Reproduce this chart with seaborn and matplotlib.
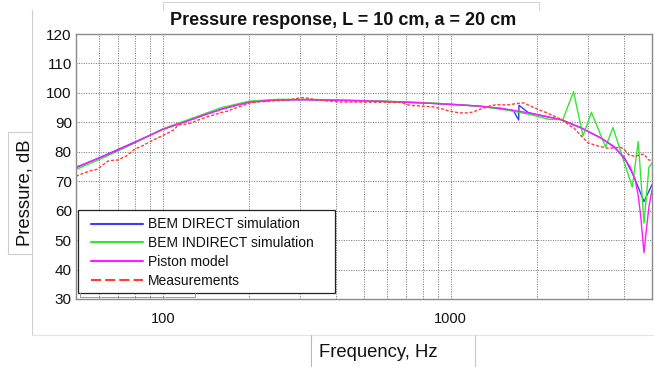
import matplotlib
matplotlib.use("Agg")
import matplotlib.pyplot as plt
import seaborn as sns
import numpy as np
from matplotlib.ticker import FixedLocator, LogLocator, NullFormatter, FuncFormatter
from matplotlib.lines import Line2D
from matplotlib.patches import Rectangle

# ---- data -------------------------------------------------------------
freq_direct = [50, 63, 80, 100, 125, 160, 200, 250, 315, 400, 500, 630, 800,
               1000, 1250, 1500, 1650, 1722, 1726, 1860, 2000, 2420, 2840,
               3350, 3690, 4000, 4300, 4690, 5000]
db_direct = [74.6, 78.8, 83.3, 87.6, 90.9, 94.5, 96.9, 97.6, 97.7, 97.5, 97.3,
             97.0, 96.6, 96.1, 95.5, 94.7, 94.0, 90.8, 95.8, 93.3, 92.6, 90.9,
             88.1, 84.5, 81.6, 78.2, 72.2, 63.1, 68.8]

freq_indirect = [50, 63, 80, 100, 125, 160, 200, 250, 315, 400, 500, 630, 800,
                 1000, 1250, 1600, 1900, 2200, 2450, 2670, 2880, 3080, 3450,
                 3660, 4270, 4480, 4690, 4880, 5000]
db_indirect = [74.0, 78.2, 83.0, 87.8, 91.2, 95.0, 97.2, 97.8, 97.8, 97.6,
               97.4, 97.1, 96.7, 96.2, 95.5, 94.0, 92.6, 91.0, 90.9, 100.4,
               85.4, 93.4, 81.6, 88.2, 68.0, 83.5, 55.8, 74.8, 76.1]

freq_piston = [50, 60, 70, 80, 90, 100, 112, 125, 140, 160, 180, 200, 225, 250,
               300, 400, 500, 600, 800, 1000, 1270, 1500, 1770, 2000, 2420,
               2840, 3000, 3350, 3690, 4000, 4200, 4370, 4480, 4570, 4690,
               4780, 4880, 5000]
db_piston = [74.8, 77.8, 80.6, 83.2, 85.5, 87.6, 89.3, 90.8, 92.6, 94.4, 95.8,
             96.8, 97.3, 97.6, 97.7, 97.5, 97.3, 97.1, 96.6, 96.1, 95.5, 94.7,
             93.6, 92.6, 90.9, 88.1, 86.9, 84.5, 81.8, 77.8, 74.8, 70.5, 65.0,
             58.0, 45.7, 53.5, 61.4, 67.0]

freq_meas = [50, 53, 56.4, 59, 61, 64.4, 67, 69.8, 74.6, 79.7, 85, 91.1, 97,
             104, 110, 112.6, 118, 125, 133, 143, 150, 159, 168, 177, 190, 202,
             220, 243, 270, 295, 310, 336, 370, 416, 480, 572, 670, 705, 740,
             805, 875, 930, 975, 1070, 1160, 1210, 1270, 1380, 1450, 1570, 1700,
             1795, 1850, 2000, 2160, 2300, 2450, 2600, 2680, 2800, 3000, 3240,
             3490, 3700, 3900, 4000, 4150, 4370, 4550, 4690, 4850, 5000]
db_meas = [71.7, 72.7, 73.6, 74.0, 75.0, 76.8, 77.1, 77.2, 78.5, 80.8, 82.0,
           83.6, 84.9, 86.3, 87.6, 89.0, 89.3, 89.7, 90.8, 91.9, 92.5, 93.3,
           93.8, 94.7, 95.7, 96.7, 97.0, 97.3, 97.5, 98.2, 98.4, 97.8, 97.3,
           96.9, 96.9, 96.8, 96.8, 96.0, 95.7, 95.5, 95.2, 94.6, 94.0, 93.2,
           93.2, 93.7, 94.5, 95.7, 96.0, 95.9, 96.4, 96.6, 96.0, 94.5, 93.2,
           92.0, 90.7, 88.8, 88.1, 86.0, 83.0, 82.0, 81.25, 81.3, 81.5, 80.9,
           79.0, 78.4, 79.0, 79.2, 77.3, 77.0]

labels = ["BEM DIRECT simulation", "BEM INDIRECT simulation",
          "Piston model", "Measurements"]
x_tick_values = [100, 1000]
y_tick_values = list(range(30, 121, 10))

# ---- figure -----------------------------------------------------------
sns.set_style("white")
plt.rcParams["font.family"] = ["Liberation Sans", "DejaVu Sans"]

W, H = 654, 367
fig = plt.figure(figsize=(W / 100, H / 100), dpi=100)
ax = fig.add_axes([76 / W, 1 - 299 / H, 576 / W, 265 / H])

series = [
    (freq_direct, db_direct, labels[0], "#3b3bff", "-"),
    (freq_indirect, db_indirect, labels[1], "#33e633", "-"),
    (freq_piston, db_piston, labels[2], "#ff1aff", "-"),
    (freq_meas, db_meas, labels[3], "#ff3b3b", (0, (2.2, 1.3))),
]
for fx_, fy_, lab, col, ls in series:
    sns.lineplot(x=fx_, y=fy_, ax=ax, color=col, label=lab, linewidth=1.0,
                 linestyle=ls, estimator=None, sort=False)

ax.set_xscale("log")
ax.set_xlim(50, 5000)
ax.set_ylim(30, 120)
ax.set_yticks(y_tick_values)
ax.xaxis.set_major_locator(FixedLocator(x_tick_values))
ax.xaxis.set_major_formatter(FuncFormatter(lambda v, p: f"{v:.0f}"))
ax.xaxis.set_minor_locator(LogLocator(base=10, subs=np.arange(2, 10), numticks=20))
ax.xaxis.set_minor_formatter(NullFormatter())
ax.set_xlabel("")
ax.set_ylabel("")

ax.grid(True, which="both", color="#707070", linestyle=(0, (1, 1.5)), linewidth=0.7)
ax.set_axisbelow(True)
for sp in ax.spines.values():
    sp.set_color("#8a8a8a")
    sp.set_linewidth(1.0)

ax.tick_params(axis="both", which="both", direction="in", color="#8a8a8a")
ax.tick_params(axis="both", which="major", length=3)
ax.tick_params(axis="both", which="minor", length=2)
ax.tick_params(axis="y", labelsize=11, pad=3, labelcolor="#111111")
ax.tick_params(axis="x", labelsize=10.5, pad=9.5, labelcolor="#111111")

# ---- legend -----------------------------------------------------------
ax.add_patch(Rectangle((77.7 / W, 1 - 293.3 / H), (335 - 77.7) / W, (293.3 - 210) / H,
                       transform=fig.transFigure, facecolor="white",
                       edgecolor="#222222", linewidth=0.9, zorder=4, clip_on=False))
leg = ax.legend(loc="upper left", bbox_to_anchor=(90.7 / W, 1 - 217.5 / H),
                bbox_transform=fig.transFigure, frameon=False, borderpad=0,
                borderaxespad=0, handlelength=3.74, handletextpad=0.36,
                labelspacing=0.34, prop={"family": "Liberation Sans", "size": 10})
for h in leg.get_lines():
    h.set_linewidth(1.5)
leg.get_lines()[3].set_linestyle((0, (4.8, 2.0)))
for t in leg.get_texts():
    t.set_color("#111111")


def fline(xs, ys, color="#cfcfcf", lw=0.8):
    fig.add_artist(Line2D([x / W for x in xs], [1 - y / H for y in ys],
                          color=color, linewidth=lw, transform=fig.transFigure))


# thin outline below the legend box
fline([80, 80, 195, 195], [293.3, 296.6, 296.6, 293.3], color="#9a9a9a", lw=0.7)

# ---- frames around the titles ----------------------------------------
fline([163, 163, 539, 539], [10, 2, 2, 10], color="#d6d6d6")
fline([31.7, 31.7], [10, 335], color="#cfcfcf")
fline([31.7, 654], [335, 335], color="#e4e4e4")
fline([31.7, 8, 8, 31.7], [132.3, 132.3, 254, 254], color="#cfcfcf")
fline([311, 311], [335, 367], color="#b8b8b8")
fline([475, 475], [335, 367], color="#c8c8c8")

# ---- texts ------------------------------------------------------------
fig.text(343 / W, 1 - 25 / H, "Pressure response, L = 10 cm, a = 20 cm",
         ha="center", va="baseline", fontsize=13, fontweight="bold",
         color="#111111")
fig.text(378 / W, 1 - 357 / H, "Frequency, Hz", ha="center", va="baseline",
         fontsize=13.3, color="#111111")
fig.text(30 / W, 1 - 193 / H, "Pressure, dB", ha="center", va="baseline",
         rotation=90, rotation_mode="anchor", fontsize=13.3, color="#111111")

fig.savefig("out.png", dpi=100)
